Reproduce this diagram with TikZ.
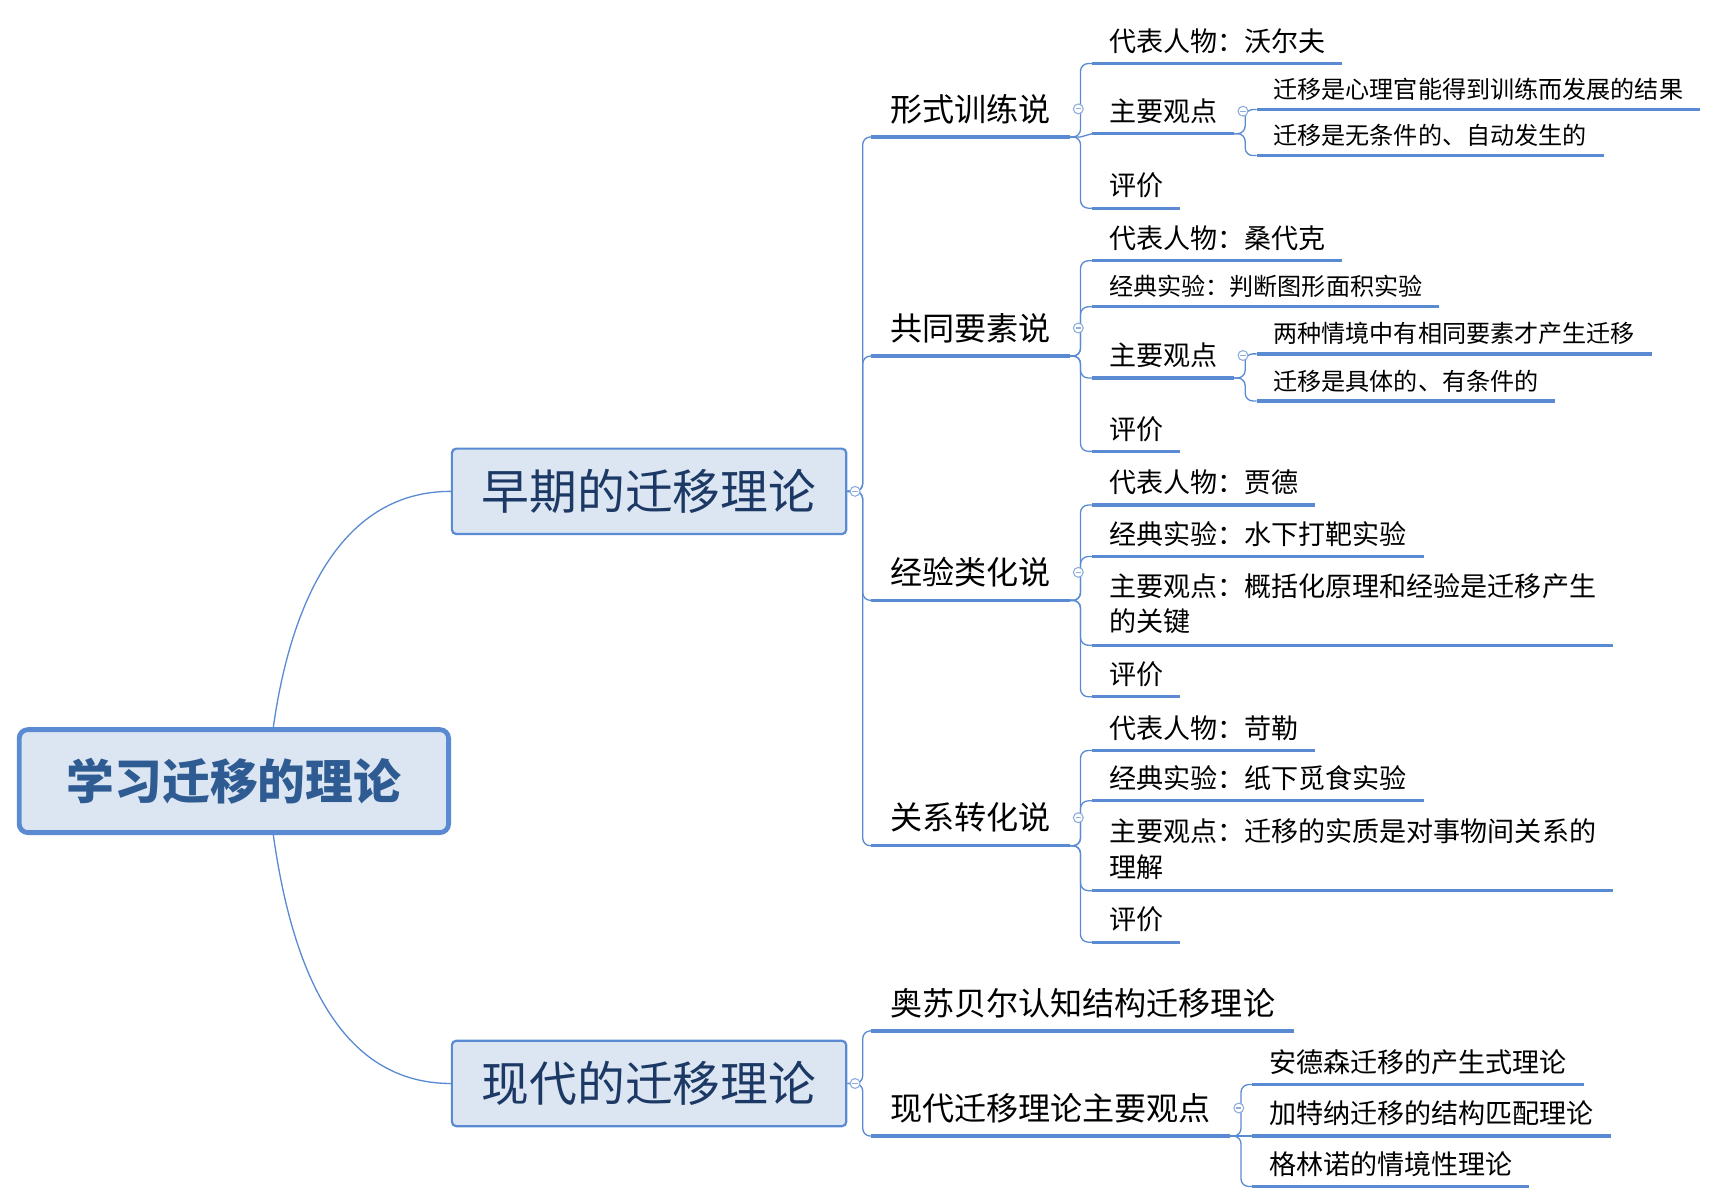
\documentclass[tikz,border=0pt]{standalone}
\usepackage{fontspec}
\setmainfont{Noto Sans CJK SC}
\usetikzlibrary{positioning}
\definecolor{mapblue}{HTML}{5A8AD2}
\definecolor{mapfill}{HTML}{DCE6F2}
\definecolor{roottext}{HTML}{2F5B93}
\definecolor{boxtext}{HTML}{1C3864}
\definecolor{foldblue}{HTML}{8EADDD}

\begin{document}
\begin{tikzpicture}[x=0.5pt, y=0.5pt,
        rootbox/.style={draw=mapblue, line width=2.2pt, fill=mapfill, rounded corners=4pt, minimum width=196pt, minimum height=47pt, text=roottext, font=\fontsize{21.8pt}{26pt}\selectfont\bfseries},
        mainbox/.style={draw=mapblue, line width=1pt, fill=mapfill, rounded corners=2pt, minimum width=180pt, minimum height=39pt, text=boxtext, font=\fontsize{21.8pt}{26pt}\selectfont},
        topic/.style={anchor=south west, inner xsep=8.5pt, inner ysep=6pt, text height=12.16pt, text depth=1.03pt, font=\fontsize{14.65pt}{18pt}\selectfont},
        subtopic/.style={anchor=south west, inner xsep=7.5pt, inner ysep=4.5pt, text height=10.25pt, text depth=0.86pt, font=\fontsize{12.35pt}{16pt}\selectfont},
        smalltopic/.style={anchor=south west, inner xsep=7.5pt, inner ysep=4pt, text height=9.13pt, text depth=0.77pt, font=\fontsize{11pt}{14pt}\selectfont},
        longtopic/.style={anchor=south west, inner xsep=7.5pt, inner ysep=5pt, align=left, font=\fontsize{12.35pt}{16pt}\selectfont},
        underline/.style={draw=mapblue, line width=1.5pt},
        link/.style={draw=mapblue, line width=0.6pt},
        branch/.style={link, rounded corners=3.5pt},
        fold/.style={circle, draw=foldblue, line width=0.5pt, fill=white, inner sep=0pt, minimum size=4.5pt,
            path picture={\draw[foldblue, line width=0.5pt] ([xshift=-1.2pt]path picture bounding box.center) -- ([xshift=1.2pt]path picture bounding box.center);}}
    ]
      \useasboundingbox (0,0) rectangle (1560,-1094.5);

      % root and the two main branches
      \node[rootbox] (root) at (213.5,-713) {学习迁移的理论};
      \node[mainbox] (zaoqi) at (592.5,-448.5) {早期的迁移理论};
      \node[mainbox] (xiandai) at (592.5,-989) {现代的迁移理论};
      \draw[link] ([xshift=18pt]root.north) to[out=82, in=180] (zaoqi.west);
      \draw[link] ([xshift=18pt]root.south) to[out=-82, in=180] (xiandai.west);

      % early theories
      \node[topic] (xingshi) at (795,-125) {形式训练说};
      \node[topic] (gongtong) at (795,-325) {共同要素说};
      \node[topic] (jingyan) at (795,-548) {经验类化说};
      \node[topic] (guanxi) at (795,-772) {关系转化说};

      % formal discipline
      \node[subtopic] (xs-ren) at (997,-58) {代表人物：沃尔夫};
      \node[subtopic] (xs-guan) at (997,-122) {主要观点};
      \node[subtopic] (xs-ping) at (997,-190) {评价};
      \node[smalltopic] (xs-guan-a) at (1147,-100) {迁移是心理官能得到训练而发展的结果};
      \node[smalltopic] (xs-guan-b) at (1147,-142) {迁移是无条件的、自动发生的};

      % identical elements
      \node[subtopic] (gt-ren) at (997,-238) {代表人物：桑代克};
      \node[smalltopic] (gt-shi) at (997,-280) {经典实验：判断图形面积实验};
      \node[subtopic] (gt-guan) at (997,-345) {主要观点};
      \node[subtopic] (gt-ping) at (997,-412) {评价};
      \node[smalltopic] (gt-guan-a) at (1147,-323) {两种情境中有相同要素才产生迁移};
      \node[smalltopic] (gt-guan-b) at (1147,-366) {迁移是具体的、有条件的};

      % generalization
      \node[subtopic] (jy-ren) at (997,-461) {代表人物：贾德};
      \node[subtopic] (jy-shi) at (997,-508) {经典实验：水下打靶实验};
      \node[longtopic] (jy-guan) at (997,-589) {主要观点：概括化原理和经验是迁移产生\\的关键};
      \node[subtopic] (jy-ping) at (997,-636) {评价};

      % transposition
      \node[subtopic] (gx-ren) at (997,-685) {代表人物：苛勒};
      \node[subtopic] (gx-shi) at (997,-731) {经典实验：纸下觅食实验};
      \node[longtopic] (gx-guan) at (997,-813) {主要观点：迁移的实质是对事物间关系的\\理解};
      \node[subtopic] (gx-ping) at (997,-860) {评价};

      % modern theories
      \node[topic] (aosubeier) at (795,-941) {奥苏贝尔认知结构迁移理论};
      \node[topic] (xdguan) at (795,-1037) {现代迁移理论主要观点};
      \node[subtopic] (xd-a) at (1143,-990) {安德森迁移的产生式理论};
      \node[subtopic] (xd-b) at (1143,-1037) {加特纳迁移的结构匹配理论};
      \node[subtopic] (xd-c) at (1143,-1083) {格林诺的情境性理论};

      % junctions
      \coordinate[right=7pt of zaoqi.east] (zaoqi-j);
      \coordinate[right=7pt of xiandai.east] (xiandai-j);
      \coordinate[right=5pt of xingshi.south east] (xingshi-j);
      \coordinate[right=5pt of gongtong.south east] (gongtong-j);
      \coordinate[right=5pt of jingyan.south east] (jingyan-j);
      \coordinate[right=5pt of guanxi.south east] (guanxi-j);
      \coordinate[right=5pt of xs-guan.south east] (xs-guan-j);
      \coordinate[right=5pt of gt-guan.south east] (gt-guan-j);
      \coordinate[right=5pt of xdguan.south east] (xdguan-j);

      % connectors
      \foreach \c in {xingshi, gongtong, jingyan, guanxi}
        \draw[branch] (zaoqi.east) -- (zaoqi-j) |- (\c.south west);
      \foreach \c in {aosubeier, xdguan}
        \draw[branch] (xiandai.east) -- (xiandai-j) |- (\c.south west);
      \foreach \c in {xs-ren, xs-ping}
        \draw[branch] (xingshi.south east) -- (xingshi-j) |- (\c.south west);
      \draw[link] (xingshi.south east) -- (xingshi-j) -- (xs-guan.south west);
      \foreach \c in {gt-ren, gt-shi, gt-guan, gt-ping}
        \draw[branch] (gongtong.south east) -- (gongtong-j) |- (\c.south west);
      \foreach \c in {jy-ren, jy-shi, jy-guan, jy-ping}
        \draw[branch] (jingyan.south east) -- (jingyan-j) |- (\c.south west);
      \foreach \c in {gx-ren, gx-shi, gx-guan, gx-ping}
        \draw[branch] (guanxi.south east) -- (guanxi-j) |- (\c.south west);
      \foreach \c in {xs-guan-a, xs-guan-b}
        \draw[branch] (xs-guan.south east) -- (xs-guan-j) |- (\c.south west);
      \foreach \c in {gt-guan-a, gt-guan-b}
        \draw[branch] (gt-guan.south east) -- (gt-guan-j) |- (\c.south west);
      \foreach \c in {xd-a, xd-c}
        \draw[branch] (xdguan.south east) -- (xdguan-j) |- (\c.south west);
      \draw[link] (xdguan.south east) -- (xd-b.south west);

      % underlines
      \foreach \n in {xingshi, gongtong, jingyan, guanxi, aosubeier, xdguan,
          xs-ren, xs-guan, xs-ping, xs-guan-a, xs-guan-b,
          gt-ren, gt-shi, gt-guan, gt-ping, gt-guan-a, gt-guan-b,
          jy-ren, jy-shi, jy-guan, jy-ping, gx-ren, gx-shi, gx-guan, gx-ping,
          xd-a, xd-b, xd-c}
        \draw[underline] (\n.south west) -- (\n.south east);

      % fold markers
      \node[fold] (zaoqi-fold) at ([xshift=3.5pt]zaoqi.east) {};
      \node[fold] (xiandai-fold) at ([xshift=3.5pt]xiandai.east) {};
      \node[fold] (xingshi-fold) at ([xshift=4pt]xingshi.east) {};
      \node[fold] (gongtong-fold) at ([xshift=4pt]gongtong.east) {};
      \node[fold] (jingyan-fold) at ([xshift=4pt]jingyan.east) {};
      \node[fold] (guanxi-fold) at ([xshift=4pt]guanxi.east) {};
      \node[fold] (xs-guan-fold) at ([xshift=4pt]xs-guan.east) {};
      \node[fold] (gt-guan-fold) at ([xshift=4pt]gt-guan.east) {};
      \node[fold] (xdguan-fold) at ([xshift=4pt]xdguan.east) {};
\end{tikzpicture}
\end{document}
